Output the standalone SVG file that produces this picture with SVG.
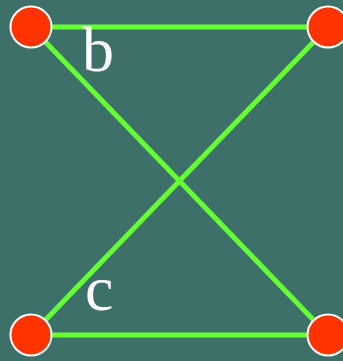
<svg xmlns="http://www.w3.org/2000/svg" width="343" height="361" viewBox="0 0 343 361">
<style>
.e{stroke:#66ff33;stroke-width:5;fill:none}
.n{fill:#ff3300;stroke:#ffffff;stroke-width:2}
.t{font-family:"Liberation Serif","Times New Roman",serif;font-size:64px;fill:#ffffff}
</style>
<rect width="343" height="361" fill="#3d7068"/>
<g id="edges">
<line class="e" x1="31" y1="27" x2="328" y2="27"/>
<line class="e" x1="31" y1="335" x2="328" y2="335"/>
<line class="e" x1="31" y1="27" x2="328" y2="335"/>
<line class="e" x1="328" y1="27" x2="31" y2="335"/>
</g>
<g id="n1"><circle class="n" cx="31" cy="27" r="20.5"/></g>
<g id="n2"><circle class="n" cx="328" cy="27" r="20.5"/></g>
<g id="n3"><circle class="n" cx="31" cy="335" r="20.5"/></g>
<g id="n4"><circle class="n" cx="328" cy="335" r="20.5"/></g>
<text class="t" x="82" y="71">b</text>
<text class="t" x="85" y="310">c</text>
</svg>
